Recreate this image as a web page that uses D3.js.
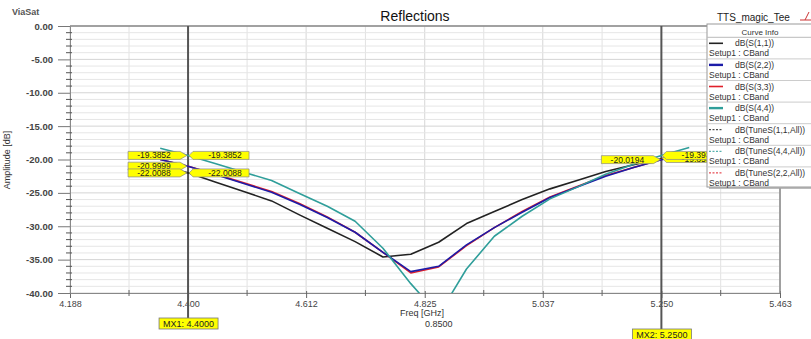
<!DOCTYPE html>
<html><head><meta charset="utf-8">
<script src="https://cdn.jsdelivr.net/npm/d3@7"></script>
<style>body{margin:0;background:#fff;}svg{display:block;font-family:"Liberation Sans",Arial,sans-serif;}</style>
</head><body>
<svg id="c" width="811" height="339"></svg>
<script>
const freqs = [4.35,4.40,4.45,4.50,4.55,4.60,4.65,4.70,4.75,4.80,4.85,4.90,4.95,5.00,5.05,5.10,5.15,5.20,5.25,5.30];
const s11 = [-21.0,-22.0,-23.4,-24.8,-26.2,-28.3,-30.3,-32.3,-34.6,-34.2,-32.4,-29.6,-27.8,-26.0,-24.4,-23.1,-21.8,-20.8,-19.9,-19.2];
const s22 = [-20.0,-21.0,-22.3,-23.6,-24.9,-26.7,-28.7,-30.9,-33.9,-36.8,-36.0,-32.8,-30.2,-27.9,-25.7,-24.1,-22.5,-21.2,-20.05,-19.2];
const s33 = [-20.0,-21.0,-22.2,-23.5,-24.8,-26.6,-28.6,-30.9,-33.9,-37.0,-36.1,-32.9,-30.2,-27.8,-25.6,-24.0,-22.4,-21.2,-20.0,-19.2];
const s44 = [-18.3,-19.39,-20.65,-21.9,-23.15,-25.1,-27.0,-29.25,-33.3,-38.6,-43.3,-36.4,-31.5,-28.5,-25.9,-24.1,-22.2,-20.7,-19.39,-18.2];
const xTicks = [4.188,4.400,4.612,4.825,5.037,5.250,5.463];
const xTickLabels = ["4.188","4.400","4.612","4.825","5.037","5.250","5.463"];
const yTicks = [0,-5,-10,-15,-20,-25,-30,-35,-40];
const legendNames = ["dB(S(1,1))","dB(S(2,2))","dB(S(3,3))","dB(S(4,4))","dB(TuneS(1,1,All))","dB(TuneS(4,4,All))","dB(TuneS(2,2,All))"];
const legendSub = "Setup1 : CBand";
const markerFreqs = [4.4, 5.25];
const markerNames = ["MX1: 4.4000","MX2: 5.2500"];
const mx1Left = [-19.3852,-20.9999,-22.0088];
const mx1Right = [-19.3852,-22.0088];
const mx2Left = [-20.0194];
const mx2Right = [-19.8531,-19.3938];

const svg = d3.select("#c");
const L=70,R=780,T=26,B=293;
const x = d3.scaleLinear().domain([4.188,5.463]).range([L,R]);
const y = d3.scaleLinear().domain([0,-40]).range([T,B]);

// grid
const g = svg.append("g");
for(let i=0;i<xTicks.length-1;i++){
  const m=(xTicks[i]+xTicks[i+1])/2;
  g.append("line").attr("x1",x(m)).attr("x2",x(m)).attr("y1",T).attr("y2",B).attr("stroke","#e2e2e2");
}
xTicks.forEach(t=>g.append("line").attr("x1",x(t)).attr("x2",x(t)).attr("y1",T).attr("y2",B).attr("stroke","#d6d6d6"));
d3.range(0,-41,-1).forEach(v=>g.append("line").attr("x1",L).attr("x2",R).attr("y1",y(v)).attr("y2",y(v)).attr("stroke", v%5===0?"#d4d4d4":"#e6e6e6"));

// axes
const ax = svg.append("g").attr("transform",`translate(0,${B})`)
  .call(d3.axisBottom(x).tickValues(xTicks).tickFormat((d,i)=>xTickLabels[i]).tickSize(5).tickPadding(3));
ax.select(".domain").attr("stroke","#888");
ax.selectAll("text").attr("font-size","9px").attr("fill","#444").attr("font-family","Liberation Sans, Arial");
ax.selectAll("line").attr("stroke","#666").attr("y1",-2);
const xm=[];for(let i=0;i<xTicks.length-1;i++)xm.push((xTicks[i]+xTicks[i+1])/2);
xm.forEach(m=>svg.append("line").attr("x1",x(m)).attr("x2",x(m)).attr("y1",B-3).attr("y2",B+3).attr("stroke","#666"));

const ay = svg.append("g").attr("transform",`translate(${L},0)`)
  .call(d3.axisLeft(y).tickValues(yTicks).tickFormat(d=>d.toFixed(2)).tickSize(12).tickPadding(5));
ay.select(".domain").attr("stroke","#888");
ay.selectAll("text").attr("font-size","9.5px").attr("fill","#444").attr("font-weight","bold").attr("font-family","Liberation Sans, Arial");
ay.selectAll("line").attr("stroke","#777");
d3.range(0,-41,-1).filter(v=>v%5!==0).forEach(v=>svg.append("line").attr("x1",L-4).attr("x2",L+2).attr("y1",y(v)).attr("y2",y(v)).attr("stroke","#555"));
svg.append("line").attr("x1",L).attr("x2",R).attr("y1",T).attr("y2",T).attr("stroke","#888").attr("stroke-width",1.5);
svg.append("line").attr("x1",R).attr("x2",R).attr("y1",T).attr("y2",B).attr("stroke","#888");

// texts
svg.append("text").attr("x",12).attr("y",15).attr("font-size","9px").attr("font-weight","bold").attr("fill","#555").text("ViaSat");
svg.append("text").attr("x",415).attr("y",21).attr("text-anchor","middle").attr("font-size","14px").attr("fill","#111").text("Reflections");
svg.append("text").attr("x",717).attr("y",21).attr("font-size","10px").attr("fill","#222").text("TTS_magic_Tee");
svg.append("path").attr("d","M800,20 L811,20 M805,20 L809,12").attr("stroke","#c33").attr("fill","none");
svg.append("text").attr("transform","translate(10,160) rotate(-90)").attr("text-anchor","middle").attr("font-size","9px").attr("fill","#333").text("Amplitude [dB]");
svg.append("text").attr("x",400).attr("y",316).attr("font-size","9px").attr("fill","#333").text("Freq [GHz]");
svg.append("text").attr("x",425).attr("y",327).attr("font-size","9px").attr("fill","#333").text("0.8500");

// markers lines
const mEnds=[318,329];
markerFreqs.forEach((f,i)=>svg.append("line").attr("x1",x(f)).attr("x2",x(f)).attr("y1",T).attr("y2",mEnds[i]).attr("stroke","#555").attr("stroke-width",2));

// curves
svg.append("clipPath").attr("id","cp").append("rect").attr("x",L).attr("y",T).attr("width",R-L).attr("height",B-T);
const line=d3.line().x((d,i)=>x(freqs[i])).y(d=>y(d));
const cg=svg.append("g").attr("clip-path","url(#cp)");
const series=[{v:s11,c:"#222"},{v:s33,c:"#e0202a"},{v:s22,c:"#1c1ca8"},{v:s44,c:"#2f9e9a"}];
series.forEach(s=>cg.append("path").attr("d",line(s.v)).attr("fill","none").attr("stroke",s.c).attr("stroke-width",1.6).attr("stroke-linejoin","round"));

// marker value labels
function callout(mx,val,side,txt){
  const cy=y(val),h=8,w=52;
  let d;
  if(side<0){const x1=mx-8,x0=x1-w;d=`M${x0},${cy-h/2}L${x1},${cy-h/2}L${mx-1},${cy}L${x1},${cy+h/2}L${x0},${cy+h/2}Z`;
    svg.append("path").attr("d",d).attr("fill","#ffff00").attr("stroke","#888").attr("stroke-width",0.7);
    svg.append("text").attr("x",x0+w/2).attr("y",cy+3).attr("text-anchor","middle").attr("font-size","8.5px").attr("fill","#222").text(txt);}
  else{const x0=mx+5,x1=x0+w+4;d=`M${mx+1},${cy}L${x0},${cy-h/2}L${x1},${cy-h/2}L${x1},${cy+h/2}L${x0},${cy+h/2}Z`;
    svg.append("path").attr("d",d).attr("fill","#ffff00").attr("stroke","#888").attr("stroke-width",0.7);
    svg.append("text").attr("x",x0+6+w/2).attr("y",cy+3).attr("text-anchor","middle").attr("font-size","8.5px").attr("fill","#222").text(txt);}
}
mx1Left.forEach(v=>callout(x(4.4),v,-1,v.toFixed(4)));
mx1Right.forEach(v=>callout(x(4.4),v,1,v.toFixed(4)));
mx2Left.forEach(v=>callout(x(5.25),v,-1,v.toFixed(4)));
mx2Right.forEach(v=>callout(x(5.25),v,1,v.toFixed(4)));

// marker name boxes
const mY=[318,329];
markerFreqs.forEach((f,i)=>{
  const bx=x(f)-29,w=59;
  svg.append("rect").attr("x",bx).attr("y",mY[i]).attr("width",w).attr("height",11).attr("fill","#ffff00").attr("stroke","#777").attr("stroke-width",0.8);
  svg.append("text").attr("x",bx+w/2).attr("y",mY[i]+9).attr("text-anchor","middle").attr("font-size","9px").attr("fill","#222").text(markerNames[i]);
});

// legend
const lx=707,ly=24,lw=110,lh=163;
svg.append("rect").attr("x",lx+2).attr("y",ly+2).attr("width",lw).attr("height",lh).attr("fill","#bbb");
svg.append("rect").attr("x",lx).attr("y",ly).attr("width",lw).attr("height",lh).attr("fill","#fff").attr("stroke","#999");
svg.append("text").attr("x",760).attr("y",35).attr("text-anchor","middle").attr("font-size","8px").attr("fill","#333").text("Curve Info");
svg.append("line").attr("x1",lx).attr("x2",lx+lw).attr("y1",37.3).attr("y2",37.3).attr("stroke","#bbb");
const lcol=["#222","#1c1ca8","#e0202a","#2f9e9a","#222","#2f9e9a","#e0202a"];
const ldash=[null,null,null,null,"2,1.5","2,1.5","2,1.5"];
const lwid=[1.6,2.4,1.6,2.4,1,1,1];
legendNames.forEach((n,i)=>{
  const top=37.3+21.6*i;
  svg.append("line").attr("x1",709).attr("x2",723).attr("y1",top+6).attr("y2",top+6).attr("stroke",lcol[i]).attr("stroke-width",lwid[i]).attr("stroke-dasharray",ldash[i]);
  svg.append("text").attr("x",735).attr("y",top+9).attr("font-size","8.5px").attr("fill","#333").text(n);
  svg.append("text").attr("x",709).attr("y",top+19).attr("font-size","8.5px").attr("fill","#333").text(legendSub);
  if(i<legendNames.length-1) svg.append("line").attr("x1",lx).attr("x2",lx+lw).attr("y1",top+21.6).attr("y2",top+21.6).attr("stroke","#ccc");
});
svg.append("line").attr("x1",R).attr("x2",R).attr("y1",ly+lh+1).attr("y2",B).attr("stroke","#888");
</script>
</body></html>
